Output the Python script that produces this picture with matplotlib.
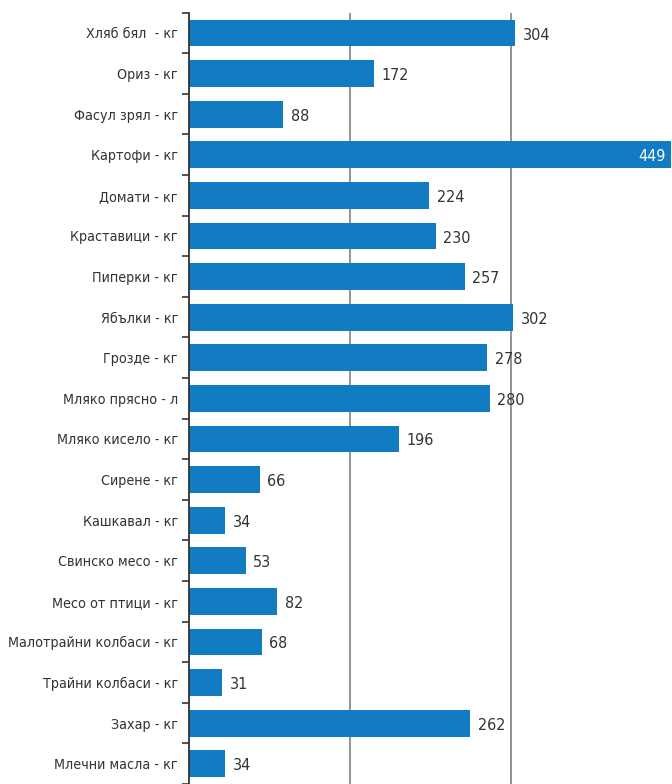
import matplotlib.pyplot as plt
import numpy as np

categories = ["Хляб бял  - кг", "Ориз - кг", "Фасул зрял - кг", "Картофи - кг",
              "Домати - кг", "Краставици - кг", "Пиперки - кг", "Ябълки - кг",
              "Грозде - кг", "Мляко прясно - л", "Мляко кисело - кг", "Сирене - кг",
              "Кашкавал - кг", "Свинско месо - кг", "Месо от птици - кг",
              "Малотрайни колбаси - кг", "Трайни колбаси - кг", "Захар - кг",
              "Млечни масла - кг"]
values = [304, 172, 88, 449, 224, 230, 257, 302, 278, 280, 196, 66, 34, 53, 82,
          68, 31, 262, 34]

bar_color = "#117cc1"
text_color = "#333333"
font = dict(family="DejaVu Sans", stretch="condensed")

fig = plt.figure(figsize=(6.72, 7.84), dpi=100)
ax = fig.add_axes([189 / 672, 0.0, 1 - 189 / 672, 1 - 12.7 / 784])

y = np.arange(len(categories))
ax.barh(y, values, height=0.66, color=bar_color, zorder=2)

ax.set_ylim(len(categories) - 0.5, -0.5)
ax.set_xlim(0, 450)

# vertical gridlines
for gx in [150, 300]:
    ax.axvline(gx, color="#8a8a8a", lw=1.3, zorder=1)

for i, v in enumerate(values):
    if v > 400:
        ax.text(v - 5, i + 0.05, str(v), va="center", ha="right", color="white",
                fontsize=11.5, **font)
    else:
        ax.text(v + 7, i + 0.05, str(v), va="center", ha="left", color=text_color,
                fontsize=11.5, **font)

ax.set_yticks(y)
ax.set_yticklabels(categories, fontsize=10.3, color=text_color, **font)
ax.tick_params(axis="y", which="major", length=0, pad=8)
ax.set_yticks(np.arange(len(categories) + 1) - 0.5, minor=True)
ax.tick_params(axis="y", which="minor", length=5, width=1.2, color="#333333", direction="out")
ax.set_xticks([])

for s in ["top", "right", "bottom"]:
    ax.spines[s].set_visible(False)
ax.spines["left"].set_color("#333333")
ax.spines["left"].set_linewidth(1.3)

fig.savefig("out.png", dpi=100)
